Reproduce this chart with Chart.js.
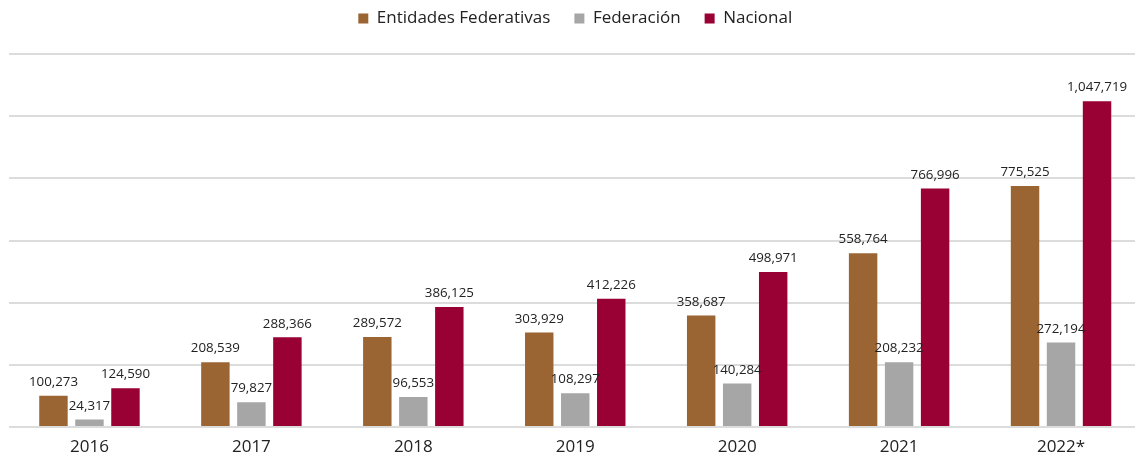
<!DOCTYPE html>
<html><head><meta charset="utf-8">
<script src="https://cdn.jsdelivr.net/npm/chart.js@4/dist/chart.umd.min.js"></script>
<style>html,body{margin:0;padding:0;background:#fff;overflow:hidden}#outer{width:1135px;height:455px;overflow:hidden}#wrap{width:1142px;height:455px}</style>
</head><body><div id="outer"><div id="wrap"><canvas id="c"></canvas></div></div>
<script>
const categories = ["2016","2017","2018","2019","2020","2021","2022*"];
const entidades = [100273,208539,289572,303929,358687,558764,775525];
const federacion = [24317,79827,96553,108297,140284,208232,272194];
const nacional = [124590,288366,386125,412226,498971,766996,1047719];
const seriesNames = ["Entidades Federativas","Federación","Nacional"];

const labelPlugin = {
  id:'labels',
  afterDatasetsDraw(chart){
    const ctx = chart.ctx;
    ctx.save();
    ctx.font = '13.3px "Open Sans", sans-serif';
    ctx.fillStyle = '#222';
    ctx.textAlign = 'center';
    ctx.textBaseline = 'bottom';
    chart.data.datasets.forEach((ds,i)=>{
      chart.getDatasetMeta(i).data.forEach((bar,j)=>{
        ctx.fillText(ds.data[j].toLocaleString('en-US'), bar.x, bar.y - 7);
      });
    });
    ctx.restore();
  }
};

new Chart(document.getElementById('c'), {
  type:'bar',
  data:{
    labels:categories,
    datasets:[
      {label:seriesNames[0], data:entidades, backgroundColor:'#9A6533'},
      {label:seriesNames[1], data:federacion, backgroundColor:'#A6A6A6'},
      {label:seriesNames[2], data:nacional, backgroundColor:'#990033'}
    ]
  },
  options:{
    responsive:true, maintainAspectRatio:false, animation:false,
    layout:{padding:{left:8.5,right:0,top:-14,bottom:-13}},
    datasets:{bar:{categoryPercentage:0.667,barPercentage:0.79}},
    plugins:{
      legend:{position:'top',labels:{boxWidth:10,boxHeight:10,padding:24,color:'#222',font:{family:'"Open Sans", sans-serif',size:17}}},
      subtitle:{display:true,text:'',weight:500,font:{size:1,lineHeight:1},padding:{top:8,bottom:8}},
      tooltip:{enabled:false}
    },
    scales:{
      x:{grid:{display:false,drawTicks:false},border:{display:false},ticks:{color:'#222',font:{family:'"Open Sans", sans-serif',size:17,lineHeight:1},padding:12}},
      y:{min:0,max:1200000,ticks:{display:false,stepSize:200000},border:{display:false},grid:{color:'#dcdcdc',lineWidth:2,drawTicks:false}}
    }
  },
  plugins:[labelPlugin]
});
</script></body></html>
